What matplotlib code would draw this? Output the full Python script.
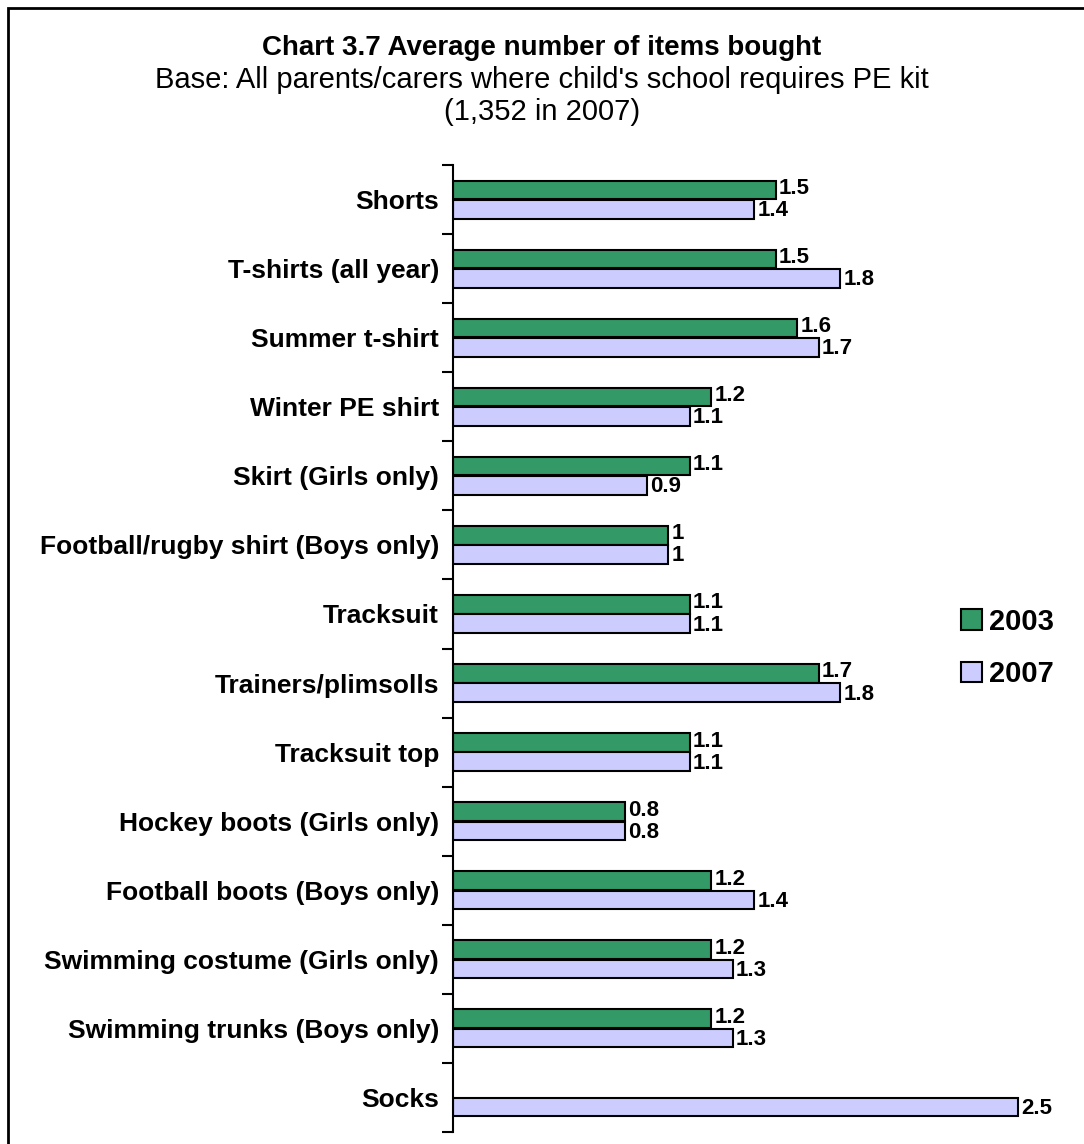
import matplotlib
matplotlib.use("Agg")
import matplotlib.pyplot as plt
from matplotlib.patches import Rectangle
import numpy as np

plt.rcParams['font.family'] = ['Liberation Sans', 'DejaVu Sans']

# datos
categorias = ["Shorts", "T-shirts (all year)", "Summer t-shirt", "Winter PE shirt",
              "Skirt (Girls only)", "Football/rugby shirt (Boys only)", "Tracksuit",
              "Trainers/plimsolls", "Tracksuit top", "Hockey boots (Girls only)",
              "Football boots (Boys only)", "Swimming costume (Girls only)",
              "Swimming trunks (Boys only)", "Socks"]
valores_2003 = [1.5, 1.5, 1.6, 1.2, 1.1, 1.0, 1.1, 1.7, 1.1, 0.8, 1.2, 1.2, 1.2, None]
valores_2007 = [1.4, 1.8, 1.7, 1.1, 0.9, 1.0, 1.1, 1.8, 1.1, 0.8, 1.4, 1.3, 1.3, 2.63]
etiquetas_2003 = ["1.5", "1.5", "1.6", "1.2", "1.1", "1", "1.1", "1.7", "1.1", "0.8", "1.2", "1.2", "1.2", ""]
etiquetas_2007 = ["1.4", "1.8", "1.7", "1.1", "0.9", "1", "1.1", "1.8", "1.1", "0.8", "1.4", "1.3", "1.3", "2.5"]
series = ["2003", "2007"]

verde = "#339966"
lila = "#CCCCFF"

W, H = 1084, 1144
fig = plt.figure(figsize=(W / 100, H / 100), dpi=100)

# marco exterior (sale por la derecha y por abajo)
fig.patches.append(Rectangle((8 / W, -0.05), 1.2, 1 - 8 / H + 0.05, transform=fig.transFigure,
                             fill=False, edgecolor="black", linewidth=2))

fig.text(0.5, 1 - 48 / H, "Chart 3.7 Average number of items bought", ha="center", va="center",
         fontsize=20, fontweight="bold")
fig.text(0.5, 1 - 80 / H, "Base: All parents/carers where child's school requires PE kit",
         ha="center", va="center", fontsize=21)
fig.text(0.5, 1 - 112 / H, "(1,352 in 2007)", ha="center", va="center", fontsize=21)

izq = 453 / W
der = (453 + 2.75 * 215) / W
arriba = 1 - 165 / H
abajo = 1 - 1132 / H
ax = fig.add_axes([izq, abajo, der - izq, arriba - abajo])

n = len(categorias)
y = np.arange(n)
alto = 0.27
desp = 0.14

for i in range(n):
    if valores_2003[i] is not None:
        ax.barh(y[i] - desp, valores_2003[i], height=alto, color=verde, edgecolor="black",
                linewidth=1.5, label="2003" if i == 0 else None)
        ax.text(valores_2003[i] + 0.015, y[i] - desp - 0.02, etiquetas_2003[i], va="center", ha="left",
                fontsize=16, fontweight="bold")
    ax.barh(y[i] + desp, valores_2007[i], height=alto, color=lila, edgecolor="black",
            linewidth=1.5, label="2007" if i == 0 else None)
    ax.text(valores_2007[i] + 0.015, y[i] + desp + 0.02, etiquetas_2007[i], va="center", ha="left",
            fontsize=16, fontweight="bold")

ax.set_xlim(0, 2.75)
ax.set_ylim(n - 0.5, -0.5)
ax.set_yticks(y)
ax.set_yticklabels(categorias, fontsize=19, fontweight="bold")
ax.set_yticks(np.arange(n + 1) - 0.5, minor=True)
ax.tick_params(axis="y", which="major", length=0, pad=10)
ax.tick_params(axis="y", which="minor", length=8, width=1.5, direction="out")
ax.set_xticks([])
for lado in ["top", "right", "bottom"]:
    ax.spines[lado].set_visible(False)
ax.spines["left"].set_linewidth(1.5)

leg = fig.legend(loc="center left", bbox_to_anchor=(935 / W, 1 - 648 / H), frameon=False,
                 prop={"size": 21, "weight": "bold"}, handlelength=0.7, handleheight=0.7,
                 handletextpad=0.25, labelspacing=0.85)

fig.savefig("out.png", dpi=100)
